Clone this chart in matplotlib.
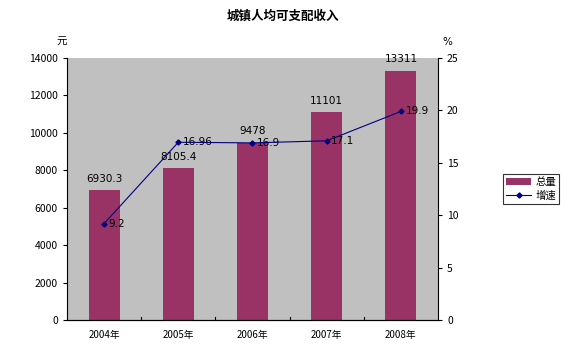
import matplotlib
matplotlib.use("Agg")
import matplotlib.pyplot as plt
import numpy as np

plt.rcParams['font.family'] = ['Noto Sans CJK SC', 'DejaVu Sans']

years = ["2004年", "2005年", "2006年", "2007年", "2008年"]
totals = [6930.3, 8105.4, 9478, 11101, 13311]
total_labels = ["6930.3", "8105.4", "9478", "11101", "13311"]
growth = [9.2, 16.96, 16.9, 17.1, 19.9]
growth_labels = ["9.2", "16.96", "16.9", "17.1", "19.9"]

fig = plt.figure(figsize=(5.66, 3.57), dpi=100)
ax = fig.add_axes([67/566, 1-320/357, (438-67)/566, (320-58)/357])
ax.set_facecolor('#C0C0C0')
x = np.arange(len(years))
ax.bar(x, totals, width=0.42, color='#993366', label='总量', zorder=2)
ax.set_xlim(-0.5, 4.5)
ax.set_ylim(0, 14000)
ax.set_yticks(np.arange(0, 14001, 2000))
ax.tick_params(axis='y', labelsize=7.5, length=3, direction='out')
ax.set_xticks(x)
ax.set_xticklabels(years, fontsize=7)
ax.tick_params(axis='x', length=0, pad=7)
for b in np.arange(0.5, 4.5, 1):
    ax.plot([b, b], [0, 180], color='black', lw=0.8, zorder=3, clip_on=False)
for xi, v, lab in zip(x, totals, total_labels):
    ax.text(xi, v + 350, lab, ha='center', va='bottom', fontsize=7.5, family='DejaVu Sans')
for s in ['top', 'right']:
    ax.spines[s].set_visible(False)

ax2 = ax.twinx()
ax2.set_ylim(0, 25)
ax2.set_yticks(np.arange(0, 26, 5))
ax2.tick_params(axis='y', labelsize=7.5, length=3, direction='out')
ax2.plot(x, growth, color='#000080', lw=0.8, marker='D', markersize=2.6, label='增速', zorder=4)
for xi, v, lab in zip(x, growth, growth_labels):
    ax2.text(xi + 0.06, v, lab, ha='left', va='center', fontsize=7.5, family='DejaVu Sans')
ax2.spines['top'].set_visible(False)
ax2.spines['left'].set_visible(False)

fig.text(62/566, 1-45/357, '元', fontsize=7.5, ha='center')
fig.text(447/566, 1-45/357, '%', fontsize=7.5, ha='center', family='DejaVu Sans')
fig.text(283/566, 1-16/357, '城镇人均可支配收入', fontsize=9, fontweight='bold', ha='center', va='center')

h1, l1 = ax.get_legend_handles_labels()
h2, l2 = ax2.get_legend_handles_labels()
leg = fig.legend(h1 + h2, l1 + l2, loc='center', bbox_to_anchor=(531/566, 1-189/357),
                 fontsize=7.5, frameon=True, fancybox=False, edgecolor='black',
                 handlelength=2.4, borderpad=0.3, labelspacing=0.3, handletextpad=0.4)
leg.get_frame().set_linewidth(0.8)

fig.savefig('out.png', dpi=100, facecolor='white')
